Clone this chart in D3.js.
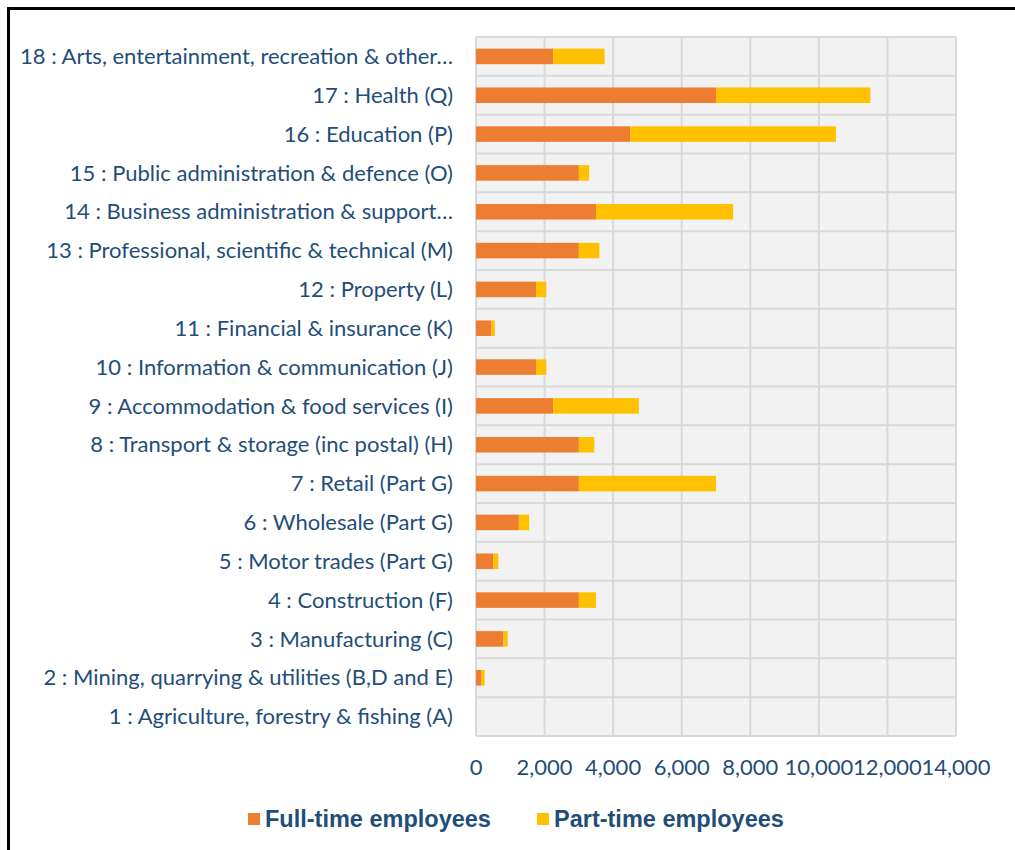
<!DOCTYPE html>
<html>
<head>
<meta charset="utf-8">
<script src="https://cdn.jsdelivr.net/npm/d3@7"></script>
<style>
  body { margin: 0; background: #fff; }
  svg { display: block; }
</style>
</head>
<body>
<svg id="plot"></svg>
<script>
// industries, bottom to top as in the chart
const categories = [
  "1 : Agriculture, forestry & fishing (A)",
  "2 : Mining, quarrying & utilities (B,D and E)",
  "3 : Manufacturing (C)",
  "4 : Construction (F)",
  "5 : Motor trades (Part G)",
  "6 : Wholesale (Part G)",
  "7 : Retail (Part G)",
  "8 : Transport & storage (inc postal) (H)",
  "9 : Accommodation & food services (I)",
  "10 : Information & communication (J)",
  "11 : Financial & insurance (K)",
  "12 : Property (L)",
  "13 : Professional, scientific & technical (M)",
  "14 : Business administration & support\u2026",
  "15 : Public administration & defence (O)",
  "16 : Education (P)",
  "17 : Health (Q)",
  "18 : Arts, entertainment, recreation & other\u2026"
];
const fullTime = [0, 150, 800, 3000, 500, 1250, 3000, 3000, 2250, 1750, 450, 1750, 3000, 3500, 3000, 4500, 7000, 2250];
const partTime = [0, 100, 125, 500, 150, 300, 4000, 450, 2500, 300, 100, 300, 600, 4000, 300, 6000, 4500, 1500];
const xTicks = [0, 2000, 4000, 6000, 8000, 10000, 12000, 14000];
const seriesNames = ["Full-time employees", "Part-time employees"];

const W = 1015, H = 850;
const margin = { top: 37, right: 59, bottom: 114, left: 476 };
const width = W - margin.left - margin.right,
      height = H - margin.top - margin.bottom;

const textCol = "#1f4e79";
const color = d3.scaleOrdinal()
  .domain(seriesNames)
  .range(["#ed7d31", "#ffc000"]);

const root = d3.select("#plot").attr("width", W).attr("height", H);

// outer frame (runs off the right and bottom edges)
root.append("rect")
  .attr("x", 8.5).attr("y", 8.5)
  .attr("width", 1030).attr("height", 870)
  .attr("fill", "none")
  .attr("stroke", "#000")
  .attr("stroke-width", 3);

const svg = root.append("g")
  .attr("transform", `translate(${margin.left},${margin.top})`);

const x = d3.scaleLinear().domain([0, 14000]).range([0, width]);
const y = d3.scaleBand()
  .domain(categories.slice().reverse())
  .range([0, height])
  .paddingInner(0.6).paddingOuter(0.3);

// plot background
svg.append("rect")
  .attr("width", width).attr("height", height)
  .attr("fill", "#f2f2f2");

// vertical grid
svg.append("g")
  .selectAll("line")
  .data(xTicks)
  .enter().append("line")
    .attr("x1", d => x(d)).attr("x2", d => x(d))
    .attr("y1", 0).attr("y2", height)
    .attr("stroke", "#d9d9d9")
    .attr("stroke-width", 2);

// horizontal grid at category boundaries
const step = height / categories.length;
svg.append("g")
  .selectAll("line")
  .data(d3.range(categories.length + 1))
  .enter().append("line")
    .attr("x1", 0).attr("x2", width)
    .attr("y1", i => i * step).attr("y2", i => i * step)
    .attr("stroke", "#d9d9d9")
    .attr("stroke-width", 2);

// stacked bars
const rows = categories.map((c, i) => ({ cat: c, full: fullTime[i], part: partTime[i] }));
const stack = d3.stack().keys(["full", "part"]);
const layers = stack(rows);

svg.append("g")
  .selectAll("g")
  .data(layers)
  .enter().append("g")
    .attr("fill", (d, i) => color(seriesNames[i]))
  .selectAll("rect")
  .data(d => d)
  .enter().append("rect")
    .attr("x", d => x(d[0]))
    .attr("y", d => y(d.data.cat))
    .attr("width", d => x(d[1]) - x(d[0]))
    .attr("height", y.bandwidth());

// category labels
svg.append("g")
  .selectAll("text")
  .data(categories)
  .enter().append("text")
    .attr("x", -23)
    .attr("y", d => y(d) + y.bandwidth() / 2)
    .attr("dy", "0.35em")
    .attr("text-anchor", "end")
    .attr("font-family", "Lato, 'Open Sans', sans-serif")
    .attr("font-size", 22)
    .attr("fill", textCol)
    .text(d => d);

// x axis tick labels
svg.append("g")
  .selectAll("text")
  .data(xTicks)
  .enter().append("text")
    .attr("x", d => x(d))
    .attr("y", height + 39)
    .attr("text-anchor", "middle")
    .attr("font-family", "Lato, 'Open Sans', sans-serif")
    .attr("font-size", 22)
    .attr("fill", textCol)
    .text(d => d3.format(",")(d));

// legend
const legendPos = [248, 537];
const legend = root.append("g")
  .selectAll("g")
  .data(seriesNames)
  .enter().append("g")
    .attr("transform", (d, i) => `translate(${legendPos[i]},813)`);

legend.append("rect")
  .attr("width", 12).attr("height", 12)
  .attr("fill", d => color(d));

legend.append("text")
  .attr("x", 17)
  .attr("y", 6)
  .attr("dy", "0.35em")
  .attr("font-family", "'Liberation Sans', Arial, sans-serif")
  .attr("font-weight", "bold")
  .attr("font-size", 23.5)
  .attr("fill", textCol)
  .text(d => d);
</script>
</body>
</html>
